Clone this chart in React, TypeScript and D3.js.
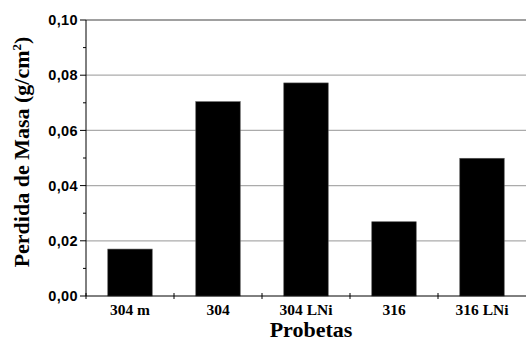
import React, { useEffect, useRef } from "react";
import * as d3 from "d3";

const categories = ["304 m", "304", "304 LNi", "316", "316 LNi"];
const values = [0.017, 0.0704, 0.0772, 0.0269, 0.0499];
const yTicks = [0, 0.02, 0.04, 0.06, 0.08, 0.1];
const yMinorTicks = [0.01, 0.03, 0.05, 0.07, 0.09];

const W = 526;
const H = 343;

export default function App() {
  const ref = useRef<SVGSVGElement>(null);

  useEffect(() => {
    const svg = d3.select(ref.current);
    svg.selectAll("*").remove();

    const left = 86, right = 526, top = 20, bottom = 296;
    const serif = "'Liberation Serif', 'Times New Roman', serif";

    const x = d3.scaleBand().domain(categories).range([left, right]).paddingInner(0).paddingOuter(0);
    const y = d3.scaleLinear().domain([0, 0.1]).range([bottom, top]);

    // gridlines
    svg.append("g")
      .selectAll("line")
      .data(yTicks.filter((d) => d > 0))
      .join("line")
      .attr("x1", left)
      .attr("x2", right)
      .attr("y1", (d) => y(d))
      .attr("y2", (d) => y(d))
      .attr("stroke", (d) => (d === 0.1 ? "#808080" : "#ababab"))
      .attr("stroke-width", (d) => (d === 0.1 ? 1.5 : 1.2));

    // bars, half the band wide, centred
    const bw = x.bandwidth() * 0.505;
    svg.append("g")
      .selectAll("rect")
      .data(values)
      .join("rect")
      .attr("x", (d, i) => x(categories[i])! + (x.bandwidth() - bw) / 2)
      .attr("y", (d) => y(d))
      .attr("width", bw)
      .attr("height", (d) => bottom - y(d))
      .attr("fill", "#000")
      .attr("stroke", "#555")
      .attr("stroke-width", 0.6);

    // y axis
    const yAxis = svg.append("g").attr("transform", `translate(${left},0)`);
    yAxis.append("line").attr("x1", 0).attr("x2", 0).attr("y1", top).attr("y2", bottom).attr("stroke", "#000");
    yAxis.selectAll(".maj")
      .data(yTicks)
      .join("line")
      .attr("x1", -6).attr("x2", 0)
      .attr("y1", (d) => y(d)).attr("y2", (d) => y(d))
      .attr("stroke", "#000");
    yAxis.selectAll(".min")
      .data(yMinorTicks)
      .join("line")
      .attr("x1", -3).attr("x2", 0)
      .attr("y1", (d) => y(d)).attr("y2", (d) => y(d))
      .attr("stroke", "#000");
    yAxis.selectAll("text")
      .data(yTicks)
      .join("text")
      .attr("x", -8)
      .attr("y", (d) => y(d))
      .attr("dy", "0.36em")
      .attr("text-anchor", "end")
      .style("font-family", "'Liberation Sans', Arial, sans-serif")
      .style("font-weight", "bold")
      .style("font-size", "14.5px")
      .style("letter-spacing", "0.4px")
      .text((d) => d3.format(".2f")(d).replace(".", ","));

    // x axis
    const xAxis = svg.append("g").attr("transform", `translate(0,${bottom})`);
    xAxis.append("line").attr("x1", left).attr("x2", right).attr("y1", 0).attr("y2", 0).attr("stroke", "#000");
    xAxis.selectAll("line.tk")
      .data(categories)
      .join("line")
      .attr("class", "tk")
      .attr("x1", (d) => x(d)!).attr("x2", (d) => x(d)!)
      .attr("y1", -3).attr("y2", 3)
      .attr("stroke", "#000");
    xAxis.selectAll("text")
      .data(categories)
      .join("text")
      .attr("x", (d) => x(d)! + x.bandwidth() / 2)
      .attr("y", 19)
      .attr("text-anchor", "middle")
      .style("font-family", serif)
      .style("font-weight", "bold")
      .style("font-size", "15.5px")
      .text((d) => d);

    // axis titles
    svg.append("text")
      .attr("x", 311)
      .attr("y", 337)
      .attr("text-anchor", "middle")
      .style("font-family", serif)
      .style("font-weight", "bold")
      .style("font-size", "22px")
      .text("Probetas");

    const yt = svg.append("text")
      .attr("transform", `translate(29,152) rotate(-90)`)
      .attr("text-anchor", "middle")
      .style("font-family", serif)
      .style("font-weight", "bold")
      .style("font-size", "22px");
    yt.append("tspan").text("Perdida de Masa (g/cm");
    yt.append("tspan").attr("dy", -8).style("font-size", "13px").text("2");
    yt.append("tspan").attr("dy", 8).text(")");
  }, []);

  return (
    <div style={{ position: "absolute", left: 0, top: 0 }}>
      <svg ref={ref} width={W} height={H} style={{ display: "block", background: "#fff" }} />
    </div>
  );
}
